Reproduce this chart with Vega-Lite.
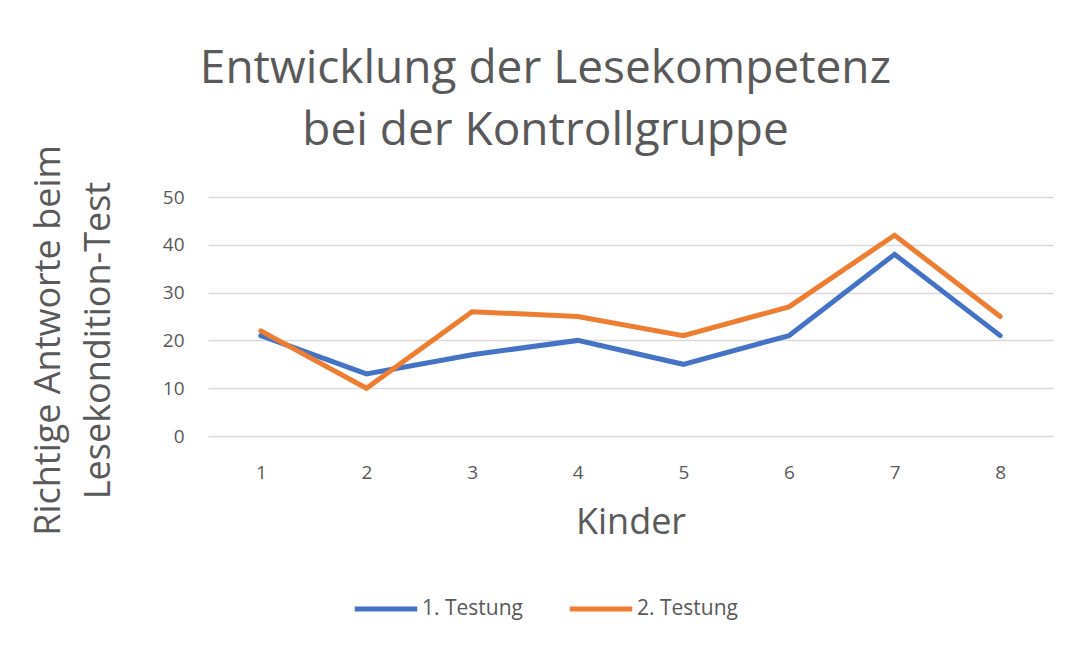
{
  "$schema": "https://vega.github.io/schema/vega-lite/v6.json",
  "width": 845,
  "height": 239,
  "autosize": {"type": "none"},
  "padding": {"left": 208, "top": 197, "right": 17, "bottom": 212},
  "background": "white",
  "config": {
    "font": "Open Sans",
    "view": {"stroke": null}
  },
  "title": {
    "text": ["Entwicklung der Lesekompetenz", "bei der Kontrollgruppe"],
    "fontSize": 46,
    "fontWeight": "normal",
    "color": "#595959",
    "anchor": "middle",
    "dx": -85,
    "dy": 38,
    "offset": 28,
    "lineHeight": 62
  },
  "data": {
    "values": [
      {"Kind": "1", "Wert": 21, "Serie": "1. Testung"},
      {"Kind": "2", "Wert": 13, "Serie": "1. Testung"},
      {"Kind": "3", "Wert": 17, "Serie": "1. Testung"},
      {"Kind": "4", "Wert": 20, "Serie": "1. Testung"},
      {"Kind": "5", "Wert": 15, "Serie": "1. Testung"},
      {"Kind": "6", "Wert": 21, "Serie": "1. Testung"},
      {"Kind": "7", "Wert": 38, "Serie": "1. Testung"},
      {"Kind": "8", "Wert": 21, "Serie": "1. Testung"},
      {"Kind": "1", "Wert": 22, "Serie": "2. Testung"},
      {"Kind": "2", "Wert": 10, "Serie": "2. Testung"},
      {"Kind": "3", "Wert": 26, "Serie": "2. Testung"},
      {"Kind": "4", "Wert": 25, "Serie": "2. Testung"},
      {"Kind": "5", "Wert": 21, "Serie": "2. Testung"},
      {"Kind": "6", "Wert": 27, "Serie": "2. Testung"},
      {"Kind": "7", "Wert": 42, "Serie": "2. Testung"},
      {"Kind": "8", "Wert": 25, "Serie": "2. Testung"}
    ]
  },
  "mark": {"type": "line", "strokeWidth": 5, "strokeCap": "round", "strokeJoin": "miter"},
  "encoding": {
    "x": {
      "field": "Kind",
      "type": "ordinal",
      "scale": {"type": "point", "padding": 0.5},
      "axis": {
        "title": "Kinder",
        "titleFontSize": 36,
        "titleFontWeight": "normal",
        "titleColor": "#595959",
        "titleY": 86,
        "titleBaseline": "middle",
        "labelAngle": 0,
        "labelFontSize": 19,
        "labelColor": "#595959",
        "labelPadding": 27,
        "domain": false,
        "ticks": false,
        "grid": false
      }
    },
    "y": {
      "field": "Wert",
      "type": "quantitative",
      "scale": {"domain": [0, 50]},
      "axis": {
        "values": [0, 10, 20, 30, 40, 50],
        "title": ["Richtige Antworte beim", "Lesekondition-Test"],
        "titleFontSize": 36,
        "titleFontWeight": "normal",
        "titleColor": "#595959",
        "titleX": -160,
        "titleY": 143,
        "titleAngle": -90,
        "titleAlign": "center",
        "titleBaseline": "middle",
        "titleLineHeight": 50,
        "labelFontSize": 19,
        "labelColor": "#595959",
        "labelPadding": 24,
        "domain": false,
        "ticks": false,
        "gridColor": "#d9d9d9",
        "gridWidth": 1.5
      }
    },
    "color": {
      "field": "Serie",
      "type": "nominal",
      "scale": {"domain": ["1. Testung", "2. Testung"], "range": ["#4472C4", "#ED7D31"]},
      "legend": {
        "title": null,
        "orient": "none",
        "direction": "horizontal",
        "legendX": 144,
        "legendY": 378,
        "symbolType": "stroke",
        "symbolSize": 3900,
        "symbolStrokeWidth": 5,
        "labelFontSize": 21,
        "labelColor": "#595959",
        "labelOffset": 2,
        "columnPadding": 36
      }
    }
  }
}
